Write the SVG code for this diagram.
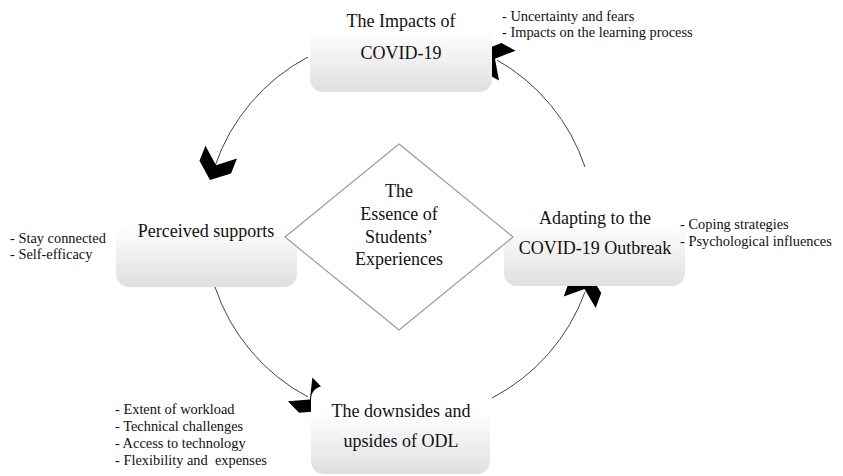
<svg xmlns="http://www.w3.org/2000/svg" width="843" height="476" viewBox="0 0 843 476">
<defs>
<linearGradient id="boxg" x1="0" y1="0" x2="0" y2="1">
<stop offset="0" stop-color="#ffffff"/>
<stop offset="0.3" stop-color="#ffffff"/>
<stop offset="1" stop-color="#dfdfdf"/>
</linearGradient>
<path id="chev" d="M0,0 L-14,-17 L-30,-17 L-16,0 L-30,17 L-14,17 Z"/>
<style>
.box{fill:url(#boxg);stroke:none}
.t{font-family:"Liberation Serif","Times New Roman",serif;font-size:18px;fill:#111;text-anchor:middle}
.a{font-family:"Liberation Serif","Times New Roman",serif;font-size:14.4px;fill:#111}
.arc{fill:none;stroke:#444;stroke-width:1}
.head{fill:#000}
.dia{fill:#fff;stroke:#9a9a9a;stroke-width:1.2}
</style>
</defs>
<rect width="843" height="476" fill="#fff"/>

<g id="connectors">
<path class="arc" d="M308,57 A194,194 0 0 0 215,166"/>
<path class="arc" d="M215,287 A194,194 0 0 0 308,397"/>
<path class="arc" d="M492,398 A194,194 0 0 0 585,292"/>
<path class="arc" d="M585,167 A194,194 0 0 0 497,60"/>
<use href="#chev" class="head" transform="translate(210,180) rotate(112)"/>
<use href="#chev" class="head" transform="translate(321,411) rotate(46)"/>
<use href="#chev" class="head" transform="translate(590,274) rotate(-70)"/>
<use href="#chev" class="head" transform="translate(481,51) rotate(-151)"/>
</g>

<g id="node-impacts">
<rect class="box" x="310" y="4" width="182" height="88" rx="13"/>
<text class="t" x="401" y="27">The Impacts of</text>
<text class="t" x="401" y="59">COVID-19</text>
<text class="a" x="502" y="21">- Uncertainty and fears</text>
<text class="a" x="502" y="37">- Impacts on the learning process</text>
</g>

<g id="node-perceived">
<rect class="box" x="116" y="199" width="181" height="88" rx="13"/>
<text class="t" x="206" y="237">Perceived supports</text>
<text class="a" x="10" y="243">- Stay connected</text>
<text class="a" x="10" y="259">- Self-efficacy</text>
</g>

<g id="node-adapting">
<rect class="box" x="504" y="198" width="181" height="88" rx="13"/>
<text class="t" x="595" y="224">Adapting to the</text>
<text class="t" x="595" y="254">COVID-19 Outbreak</text>
<text class="a" x="680" y="229">- Coping strategies</text>
<text class="a" x="680" y="246">- Psychological influences</text>
</g>

<g id="node-downsides">
<rect class="box" x="311" y="386" width="179" height="88" rx="13"/>
<text class="t" x="401" y="417">The downsides and</text>
<text class="t" x="401" y="447">upsides of ODL</text>
<text class="a" x="115" y="414">- Extent of workload</text>
<text class="a" x="115" y="431">- Technical challenges</text>
<text class="a" x="115" y="448">- Access to technology</text>
<text class="a" x="115" y="465" xml:space="preserve">- Flexibility and  expenses</text>
</g>

<g id="node-essence">
<polygon class="dia" points="399,144 513,237 399,330 285,237"/>
<text class="t" x="399" y="197">The</text>
<text class="t" x="399" y="220">Essence of</text>
<text class="t" x="399" y="243">Students’</text>
<text class="t" x="399" y="265">Experiences</text>
</g>
</svg>
